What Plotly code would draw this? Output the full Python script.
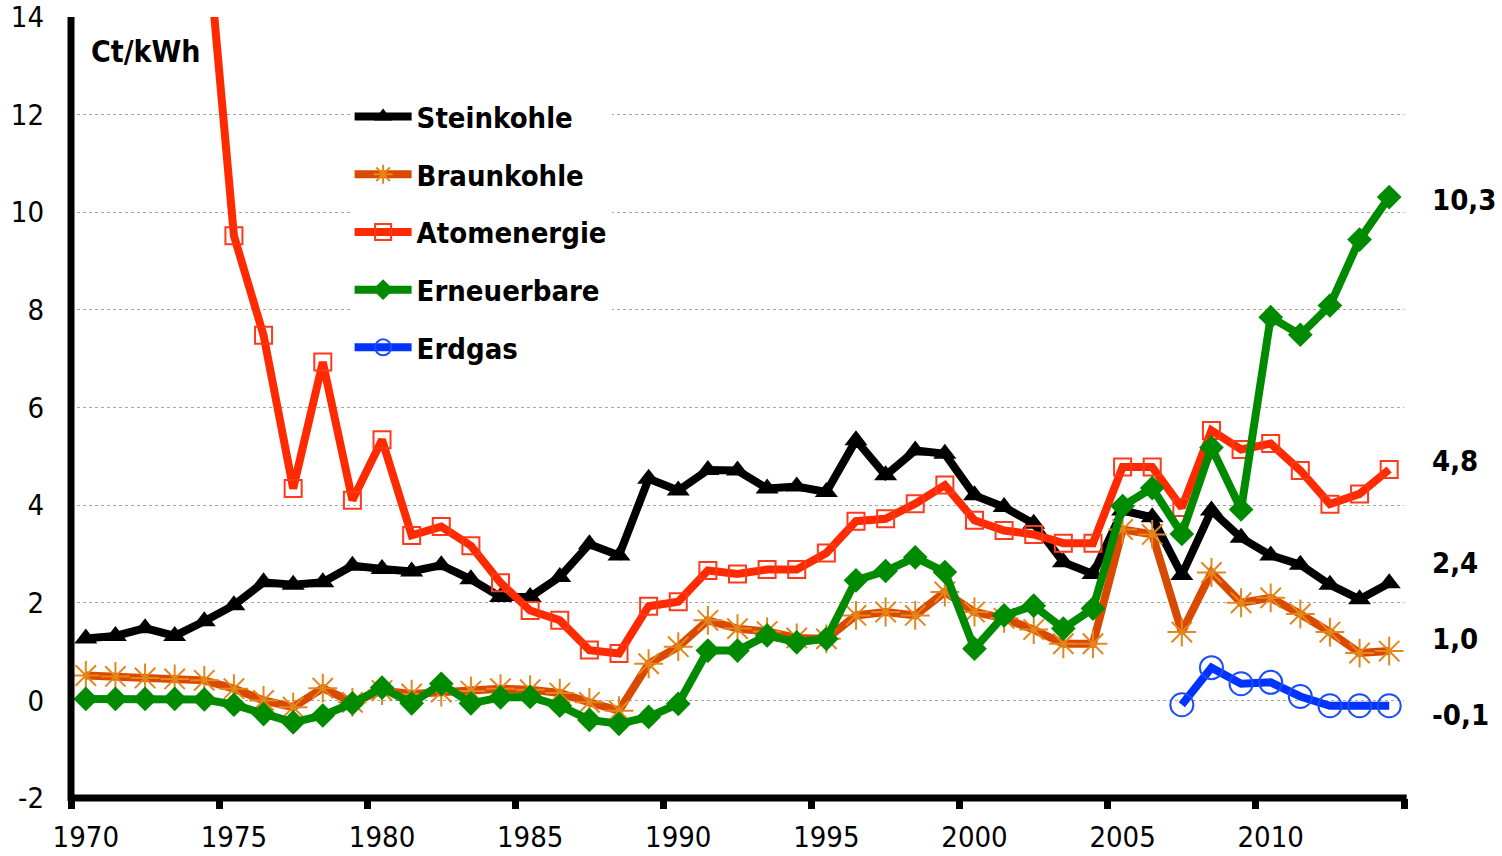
import plotly.graph_objects as go

years = list(range(1970, 2015))

steinkohle = [1.27, 1.32, 1.48, 1.32, 1.62, 1.95, 2.42, 2.37, 2.42, 2.76,
              2.69, 2.64, 2.77, 2.48, 2.12, 2.12, 2.53, 3.20, 2.97, 4.54,
              4.30, 4.72, 4.71, 4.34, 4.38, 4.27, 5.33, 4.61, 5.12, 5.05,
              4.20, 3.96, 3.62, 2.83, 2.59, 3.89, 3.75, 2.57, 3.89, 3.33,
              2.97, 2.78, 2.37, 2.07, 2.40]
braunkohle = [0.51, 0.49, 0.46, 0.44, 0.41, 0.24, 0.00, -0.14, 0.25, -0.04,
              0.20, 0.13, 0.17, 0.19, 0.24, 0.22, 0.15, -0.04, -0.21, 0.75,
              1.10, 1.64, 1.47, 1.41, 1.28, 1.26, 1.74, 1.81, 1.74, 2.22,
              1.81, 1.68, 1.45, 1.16, 1.16, 3.50, 3.40, 1.40, 2.62, 2.00,
              2.10, 1.77, 1.40, 0.97, 1.01]
atomenergie = [None, None, None, None, 16.3, 9.52, 7.48, 4.34, 6.93, 4.10,
               5.34, 3.38, 3.56, 3.17, 2.41, 1.84, 1.64, 1.03, 0.96, 1.93,
               2.02, 2.66, 2.59, 2.68, 2.68, 3.02, 3.67, 3.72, 4.03, 4.41,
               3.69, 3.48, 3.40, 3.22, 3.22, 4.78, 4.78, 3.95, 5.53, 5.14,
               5.26, 4.71, 4.02, 4.23, 4.73]
erneuerbare = [0.03, 0.03, 0.03, 0.03, 0.02, -0.09, -0.28, -0.45, -0.31, -0.06,
               0.26, -0.06, 0.34, -0.06, 0.06, 0.07, -0.11, -0.40, -0.48, -0.34,
               -0.07, 1.02, 1.02, 1.33, 1.19, 1.26, 2.46, 2.65, 2.93, 2.63,
               1.06, 1.74, 1.94, 1.47, 1.88, 3.98, 4.35, 3.41, 5.18, 3.91,
               7.85, 7.49, 8.09, 9.44, 10.31]
erdgas = [None] * 37 + [-0.09, 0.67, 0.34, 0.37, 0.08, -0.11, -0.11, -0.11]

end_labels = ["10,3", "4,8", "2,4", "1,0", "-0,1"]
end_label_y = [10.25, 4.90, 2.81, 1.25, -0.29]

tick_years = [1970, 1975, 1980, 1985, 1990, 1995, 2000, 2005, 2010]
y_ticks = [-2, 0, 2, 4, 6, 8, 10, 12, 14]

FONT = "DejaVu Sans Condensed, DejaVu Sans, sans-serif"

series = [
    ("Steinkohle", steinkohle, "#000000",
     dict(symbol="triangle-up", size=20, color="#000000")),
    ("Braunkohle", braunkohle, "#D94A00",
     dict(symbol="asterisk-open", size=24, color="#E5861A",
          line=dict(color="#E5861A", width=2))),
    ("Atomenergie", atomenergie, "#FF2A00",
     dict(symbol="square-open", size=17, color="#FF3A1A",
          line=dict(color="#FF3A1A", width=2))),
    ("Erneuerbare", erneuerbare, "#008A00",
     dict(symbol="diamond", size=19, color="#008A00")),
    ("Erdgas", erdgas, "#0033FF",
     dict(symbol="circle-open", size=23, color="#1A4DFF",
          line=dict(color="#1A4DFF", width=2))),
]

fig = go.Figure()
for i, (name, vals, col, mk) in enumerate(series):
    fig.add_trace(go.Scatter(
        x=years, y=vals, name=name, mode="lines+markers",
        line=dict(color=col, width=8), marker=mk,
        legendgroup="g%d" % i, connectgaps=False, cliponaxis=True,
    ))

for txt, yv in zip(end_labels, end_label_y):
    fig.add_annotation(x=1.0197, xref="paper", y=yv, yref="y", text=txt,
                       showarrow=False, xanchor="left", yanchor="middle",
                       font=dict(family=FONT, size=29, color="black", weight="bold"))

fig.add_annotation(x=0.0135, xref="paper", y=0.9556, yref="paper", text="Ct/kWh",
                   showarrow=False, xanchor="left", yanchor="middle",
                   font=dict(family=FONT, size=30, color="black", weight="bold"))

# axis lines centred on plot edges
fig.add_shape(type="line", xref="paper", yref="paper", x0=0, x1=0, y0=-0.004, y1=1,
              line=dict(color="black", width=7), layer="above")
fig.add_shape(type="line", xref="paper", yref="paper", x0=0, x1=1.002, y0=0, y1=0,
              line=dict(color="black", width=7), layer="above")

fig.update_layout(
    width=1502, height=856,
    margin=dict(l=71, r=98, t=17, b=58, autoexpand=False),
    plot_bgcolor="white", paper_bgcolor="white",
    font=dict(family=FONT, size=29, color="black"),
    showlegend=True,
    legend=dict(
        x=0.209, y=0.905, xanchor="left", yanchor="top",
        bgcolor="white", borderwidth=0,
        font=dict(family=FONT, size=29, color="black", weight="bold"),
        itemwidth=57, tracegroupgap=17, traceorder="grouped",
    ),
    xaxis=dict(
        range=[1969.5, 2014.5], tickvals=tick_years,
        ticktext=[str(t) for t in tick_years],
        ticks="", showgrid=False, zeroline=False, showline=False,
        ticklabelstandoff=19,
        tickfont=dict(family=FONT, size=29),
        minor=dict(ticks="outside", tick0=1969.5, dtick=5, ticklen=10,
                   tickwidth=7, tickcolor="black", showgrid=False),
    ),
    yaxis=dict(
        range=[-2, 14], tickvals=y_ticks, ticktext=[str(v) for v in y_ticks],
        ticks="", showline=False,
        zeroline=False, showgrid=True, gridcolor="#A6A6A6", gridwidth=1,
        griddash="dot", ticklabelstandoff=26,
        tickfont=dict(family=FONT, size=29),
    ),
)

fig.write_html("out.html", config={"displayModeBar": False},
               post_script="document.body.style.margin='0';")
